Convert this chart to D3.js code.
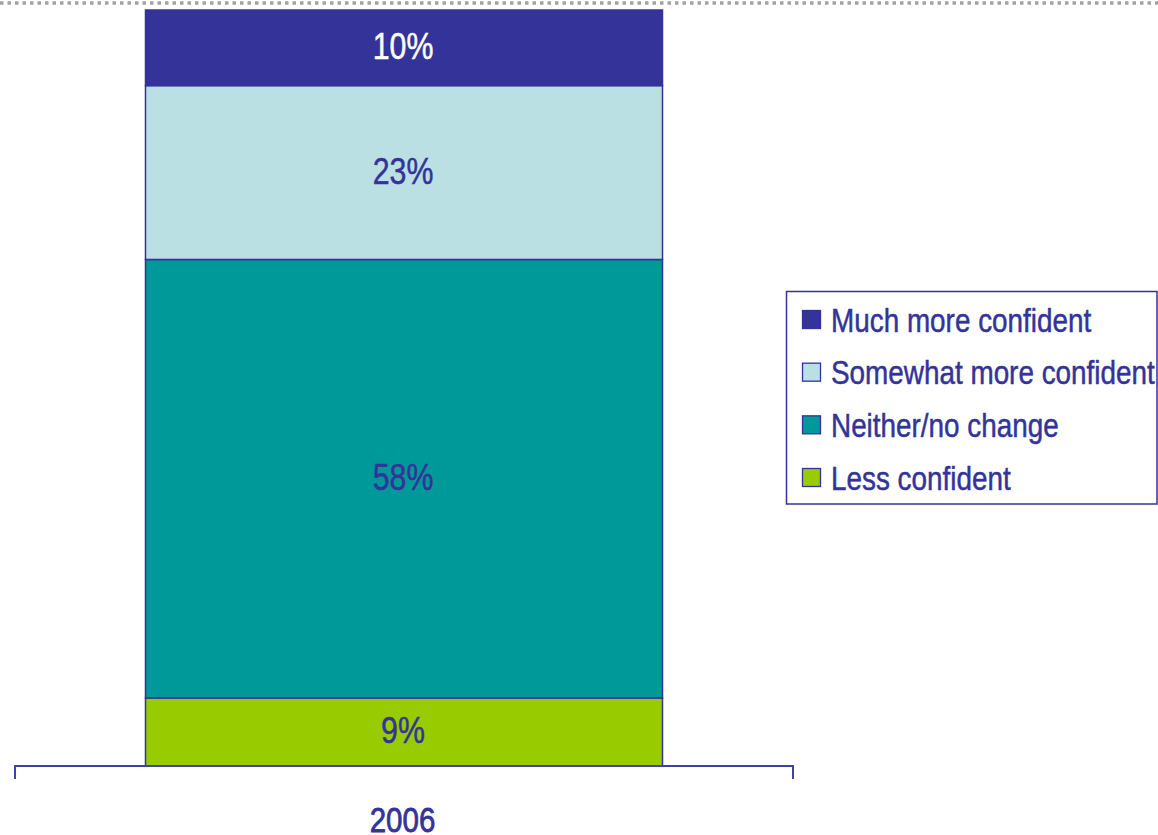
<!DOCTYPE html>
<html>
<head>
<meta charset="utf-8">
<script src="https://cdn.jsdelivr.net/npm/d3@7"></script>
<style>
  html, body { margin: 0; padding: 0; background: #fff; }
  svg { display: block; }
  text { font-family: "Liberation Sans Narrow", "Arial Narrow", "Liberation Sans", Arial, sans-serif; }
</style>
</head>
<body>
<svg id="chart" width="1158" height="835"></svg>
<script>
// Survey responses, stacked from the bottom up
const years = ["2006"];
const responses = ["Less confident", "Neither/no change", "Somewhat more confident", "Much more confident"];
const shares = [9, 58, 23, 10];
const fills = ["#99CC00", "#009999", "#BBE0E3", "#333399"];
const labelColors = ["#333399", "#333399", "#333399", "#ffffff"];
// Legend lists the categories top-down
const legendOrder = ["Much more confident", "Somewhat more confident", "Neither/no change", "Less confident"];

const ink = "#333399";
const narrow = 0.82; // horizontal squeeze to get a condensed face
const svg = d3.select("#chart");

const x = d3.scaleBand().domain(years).range([15, 793]).paddingInner(0).paddingOuter(0.2524);
const y = d3.scaleLinear().domain([0, 100]).range([766, 10]);

// dotted rule across the top
svg.append("line")
  .attr("x1", 0).attr("x2", 1158).attr("y1", 3).attr("y2", 3)
  .attr("stroke", "#a3a3a3").attr("stroke-width", 3.5)
  .attr("stroke-dasharray", "3.5,4");

// stack segments
const segs = [];
let acc = 0;
responses.forEach((r, i) => {
  segs.push({ key: r, y0: acc, y1: acc + shares[i], v: shares[i], fill: fills[i], lc: labelColors[i] });
  acc += shares[i];
});

const cx = x("2006") + x.bandwidth() / 2;
const g = svg.append("g");
g.selectAll("rect.seg").data(segs).join("rect")
  .attr("class", "seg")
  .attr("x", x("2006"))
  .attr("width", x.bandwidth())
  .attr("y", d => y(d.y1))
  .attr("height", d => y(d.y0) - y(d.y1))
  .attr("fill", d => d.fill)
  .attr("stroke", ink)
  .attr("stroke-width", 1.5);

g.selectAll("text.val").data(segs).join("text")
  .attr("class", "val")
  .attr("transform", d => `translate(${cx - 1},${(y(d.y0) + y(d.y1)) / 2 + 11.5}) scale(${narrow},1)`)
  .attr("text-anchor", "middle")
  .attr("font-size", 37)
  .attr("fill", d => d.lc)
  .attr("stroke", d => d.lc)
  .attr("stroke-width", 0.5)
  .text(d => d.v + "%");

// category axis: baseline with end ticks
const [r0, r1] = x.range();
svg.append("path")
  .attr("d", `M${r0},${y(0) + 13}V${y(0)}H${r1}V${y(0) + 13}`)
  .attr("fill", "none")
  .attr("stroke", "#4040aa")
  .attr("stroke-width", 2);

svg.selectAll("text.cat").data(years).join("text")
  .attr("class", "cat")
  .attr("transform", d => `translate(${x(d) + x.bandwidth() / 2 - 1.5},832) scale(${narrow},1)`)
  .attr("text-anchor", "middle")
  .attr("font-size", 36)
  .attr("fill", ink)
  .attr("stroke", ink)
  .attr("stroke-width", 0.8)
  .text(d => d);

// legend
const lg = svg.append("g");
lg.append("rect")
  .attr("x", 786.5).attr("y", 291.5).attr("width", 370.5).attr("height", 212.5)
  .attr("fill", "#fff").attr("stroke", ink).attr("stroke-width", 1.5);

const rowY = d3.scalePoint().domain(legendOrder).range([320, 478]);
const colorOf = d3.scaleOrdinal().domain(responses).range(fills);

const rows = lg.selectAll("g.row").data(legendOrder).join("g")
  .attr("class", "row")
  .attr("transform", d => `translate(0,${rowY(d)})`);
rows.append("rect")
  .attr("x", 802.5).attr("y", -9.5).attr("width", 18).attr("height", 18)
  .attr("fill", d => colorOf(d))
  .attr("stroke", ink).attr("stroke-width", 1.3);
rows.append("text")
  .attr("transform", `translate(831,11.5) scale(${narrow},1)`)
  .attr("font-size", 34)
  .attr("fill", ink)
  .attr("stroke", ink)
  .attr("stroke-width", 0.5)
  .text(d => d);
</script>
</body>
</html>
